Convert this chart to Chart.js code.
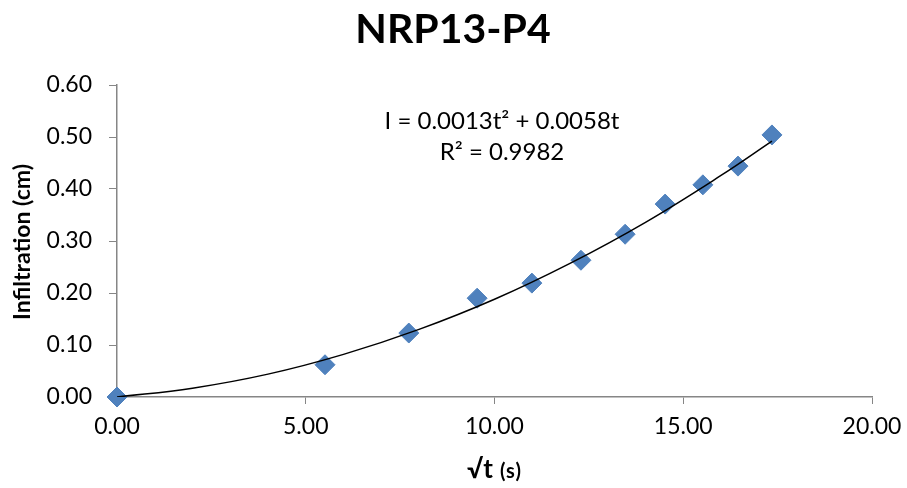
<!DOCTYPE html>
<html>
<head>
<meta charset="utf-8">
<script src="https://cdn.jsdelivr.net/npm/chart.js@4"></script>
<style>
  html, body { margin: 0; padding: 0; background: #fff; }
  canvas { display: block; }
</style>
</head>
<body>
<canvas id="chart" width="907" height="488"></canvas>
<script>
// valores
const sqrtT = [0, 5.51, 7.73, 9.54, 10.99, 12.29, 13.46, 14.52, 15.52, 16.45, 17.35];
const infiltracao = [0, 0.062, 0.123, 0.190, 0.219, 0.263, 0.313, 0.371, 0.408, 0.444, 0.504];

// linha de tendência
const trendX = [0, 2, 4, 6, 8, 10, 12, 14, 16, 17.35];
const trendY = [0, 0.017, 0.044, 0.082, 0.130, 0.188, 0.257, 0.336, 0.426, 0.492];

const xTicks = [0, 5, 10, 15, 20];
const yTicks = [0, 0.1, 0.2, 0.3, 0.4, 0.5, 0.6];

const titulo = 'NRP13-P4';
const equacao = ['I = 0.0013t² + 0.0058t', 'R² = 0.9982'];

const FONT = 'Lato, "Open Sans", sans-serif';
const AXIS = '#868686';

const textos = {
  id: 'textos',
  afterDraw(chart) {
    const { ctx, chartArea: a } = chart;
    ctx.save();
    ctx.fillStyle = '#000';
    ctx.textAlign = 'center';
    ctx.textBaseline = 'middle';

    // título
    ctx.font = 'bold 41px ' + FONT;
    ctx.fillText(titulo, 453, 30);

    // equação
    ctx.font = '24px ' + FONT;
    ctx.fillText(equacao[0], 502, 121);
    ctx.fillText(equacao[1], 502, 152);

    // título eixo y
    ctx.save();
    ctx.translate(23, 242);
    ctx.rotate(-Math.PI / 2);
    ctx.font = 'bold 23px ' + FONT;
    ctx.fillText('Infiltration (cm)', 0, 0);
    ctx.restore();

    // título eixo x: √t (s)
    const cx = (a.left + a.right) / 2;
    ctx.textBaseline = 'alphabetic';
    ctx.textAlign = 'left';
    ctx.font = 'bold 26px ' + FONT;
    const w1 = ctx.measureText('√t').width + 7;
    ctx.font = 'bold 20px ' + FONT;
    ctx.letterSpacing = '1px';
    const w2 = ctx.measureText('(s)').width;
    const x0 = cx - (w1 + w2) / 2;
    ctx.fillText('(s)', x0 + w1, 478);
    ctx.letterSpacing = '0px';
    ctx.font = 'bold 26px ' + FONT;
    ctx.fillText('√t', x0, 478);
    ctx.restore();
  }
};

new Chart(document.getElementById('chart'), {
  type: 'scatter',
  data: {
    datasets: [
      {
        type: 'line',
        data: trendX.map((x, i) => ({ x, y: trendY[i] })),
        borderColor: '#000', borderWidth: 1.5,
        pointRadius: 0, tension: 0.4, fill: false, order: 0
      },
      {
        data: sqrtT.map((x, i) => ({ x, y: infiltracao[i] })),
        pointStyle: 'rectRot', pointRadius: 10,
        backgroundColor: '#4f81bd', borderColor: '#4f81bd', borderWidth: 1,
        showLine: false, clip: false, order: 1
      }
    ]
  },
  options: {
    responsive: false, animation: false,
    layout: { padding: { top: 85, right: 35, left: 0, bottom: 0 } },
    plugins: { legend: { display: false }, tooltip: { enabled: false }, title: { display: false } },
    scales: {
      x: {
        type: 'linear', min: 0, max: 20,
        afterBuildTicks: s => { s.ticks = xTicks.map(v => ({ value: v })); },
        afterFit: s => { s.height = 91; s.paddingLeft = 0; s.paddingRight = 0; },
        grid: { drawOnChartArea: false, drawTicks: true, tickLength: 7, color: AXIS },
        border: { color: AXIS, width: 1.5 },
        ticks: { color: '#000', padding: 9, font: { family: FONT, size: 23 }, callback: v => v.toFixed(2), maxRotation: 0 }
      },
      y: {
        type: 'linear', min: 0, max: 0.6,
        afterBuildTicks: s => { s.ticks = yTicks.map(v => ({ value: v })); },
        afterFit: s => { s.width = 117; },
        grid: { drawOnChartArea: false, drawTicks: true, tickLength: 8, color: AXIS },
        border: { color: AXIS, width: 1.5 },
        ticks: { color: '#000', padding: 17, font: { family: FONT, size: 23 }, callback: v => v.toFixed(2) }
      }
    }
  },
  plugins: [textos]
});
</script>
</body>
</html>
